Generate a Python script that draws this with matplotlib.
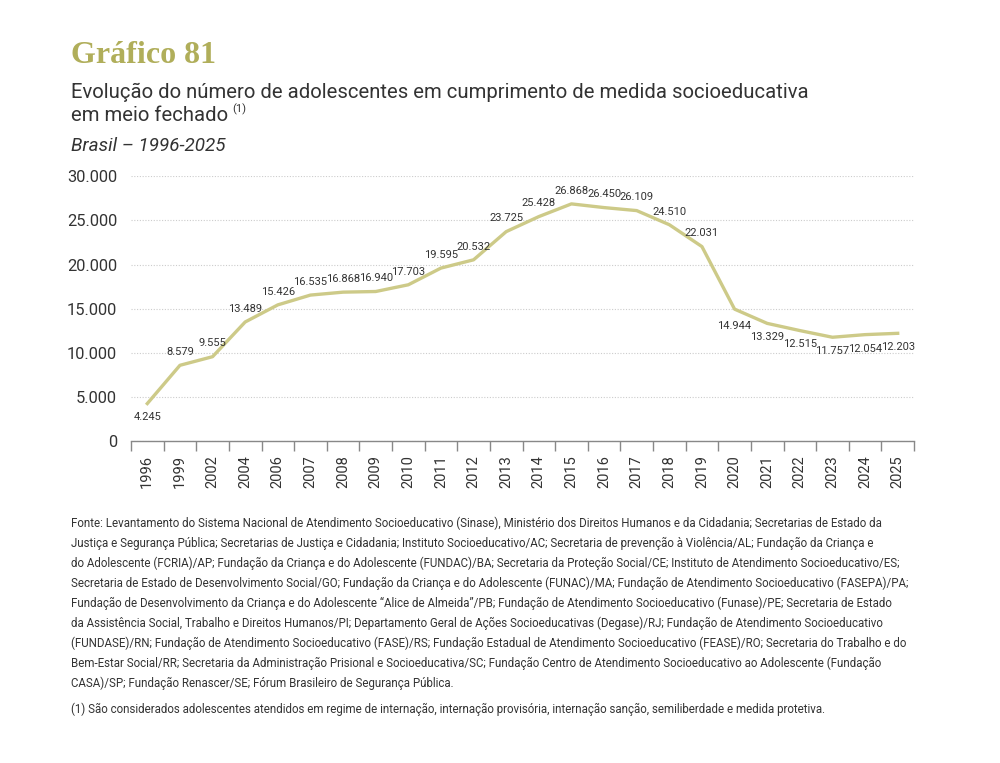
import numpy as np
import matplotlib
matplotlib.use('Agg')
import matplotlib.pyplot as plt

years = ['1996', '1999', '2002', '2004', '2006', '2007', '2008', '2009', '2010',
         '2011', '2012', '2013', '2014', '2015', '2016', '2017', '2018', '2019',
         '2020', '2021', '2022', '2023', '2024', '2025']
values = [4245, 8579, 9555, 13489, 15426, 16535, 16868, 16940, 17703,
          19595, 20532, 23725, 25428, 26868, 26450, 26109, 24510, 22031,
          14944, 13329, 12515, 11757, 12054, 12203]
below = ['1996', '2020', '2021', '2022', '2023', '2024', '2025']
yticks = [0, 5000, 10000, 15000, 20000, 25000, 30000]

fonte = [
    "Fonte: Levantamento do Sistema Nacional de Atendimento Socioeducativo (Sinase), Ministério dos Direitos Humanos e da Cidadania; Secretarias de Estado da",
    "Justiça e Segurança Pública; Secretarias de Justiça e Cidadania; Instituto Socioeducativo/AC; Secretaria de prevenção à Violência/AL; Fundação da Criança e",
    "do Adolescente (FCRIA)/AP; Fundação da Criança e do Adolescente (FUNDAC)/BA; Secretaria da Proteção Social/CE; Instituto de Atendimento Socioeducativo/ES;",
    "Secretaria de Estado de Desenvolvimento Social/GO; Fundação da Criança e do Adolescente (FUNAC)/MA; Fundação de Atendimento Socioeducativo (FASEPA)/PA;",
    "Fundação de Desenvolvimento da Criança e do Adolescente “Alice de Almeida”/PB; Fundação de Atendimento Socioeducativo (Funase)/PE; Secretaria de Estado",
    "da Assistência Social, Trabalho e Direitos Humanos/PI; Departamento Geral de Ações Socioeducativas (Degase)/RJ; Fundação de Atendimento Socioeducativo",
    "(FUNDASE)/RN; Fundação de Atendimento Socioeducativo (FASE)/RS; Fundação Estadual de Atendimento Socioeducativo (FEASE)/RO; Secretaria do Trabalho e do",
    "Bem-Estar Social/RR; Secretaria da Administração Prisional e Socioeducativa/SC; Fundação Centro de Atendimento Socioeducativo ao Adolescente (Fundação",
    "CASA)/SP; Fundação Renascer/SE; Fórum Brasileiro de Segurança Pública.",
]
nota = "(1) São considerados adolescentes atendidos em regime de internação, internação provisória, internação sanção, semiliberdade e medida protetiva."

plt.rcParams['font.family'] = ['Roboto', 'DejaVu Sans']

line_color = '#cdca88'
text_color = '#333333'

fig = plt.figure(figsize=(10, 7.63), dpi=100)
ax = fig.add_axes([0.131, 0.422, 0.783, 0.347])

x = np.arange(len(years))
ax.plot(x, values, color=line_color, lw=2.4, solid_joinstyle='round', zorder=3)

for xi, yr, v in zip(x, years, values):
    lab = f'{v:,}'.replace(',', '.')
    off = -10 if yr in below else 9.5
    if yr == '2020':
        off = -12
    ax.annotate(lab, (xi, v), xytext=(0, off), textcoords='offset points',
                ha='center', va='center', fontsize=8, color=text_color)

ax.set_xlim(-0.5, len(years) - 0.5)
ax.set_ylim(0, 30000)
ax.set_yticks(yticks)
ax.set_yticklabels([f'{t:,}'.replace(',', '.') for t in yticks], fontsize=11.8, color=text_color)
ax.tick_params(axis='y', length=0, pad=10)
ax.yaxis.grid(True, color='#cccccc', linestyle=(0, (1, 1.5)), lw=0.8)
ax.set_axisbelow(True)

ax.set_xticks(x)
ax.set_xticklabels(years, rotation=90, fontsize=10.5, color=text_color)
ax.set_xticks(np.arange(-0.5, len(years)), minor=True)
ax.tick_params(axis='x', which='major', length=0, pad=10)
ax.tick_params(axis='x', which='minor', length=7, width=1, color='#888888', direction='out')

for s in ['top', 'right', 'left']:
    ax.spines[s].set_visible(False)
ax.spines['bottom'].set_color('#888888')
ax.spines['bottom'].set_linewidth(1)

fig.text(0.071, 0.918, 'Gráfico 81', family=['Liberation Serif', 'DejaVu Serif'],
         fontsize=23, color='#b0ae5a', fontweight='bold', va='baseline')
fig.text(0.071, 0.872, 'Evolução do número de adolescentes em cumprimento de medida socioeducativa',
         fontsize=14.6, color=text_color, va='baseline')
sub2 = fig.text(0.071, 0.841, 'em meio fechado', fontsize=14.6, color=text_color, va='baseline')
fig.text(0.071, 0.802, 'Brasil – 1996-2025', fontsize=13.6, style='italic',
         color=text_color, va='baseline')

y0 = 1 - 523 / 763
foot = [fig.text(0.071, y0 - i * 20 / 763, line, fontsize=9, color=text_color, va='center')
        for i, line in enumerate(fonte)]
foot.append(fig.text(0.071, 1 - 709 / 763, nota, fontsize=9, color=text_color, va='center'))

# fit footer to the width of the reference block
fig.canvas.draw()
r = fig.canvas.get_renderer()
w = foot[0].get_window_extent(r).width
fs = 9 * 817 / w
for t in foot:
    t.set_fontsize(fs)

bb = sub2.get_window_extent(r)
fig.text((bb.x1 + 4) / 1000, 0.853, '(1)', fontsize=8, color=text_color, va='baseline')

fig.savefig('out.png', dpi=100, facecolor='white')
